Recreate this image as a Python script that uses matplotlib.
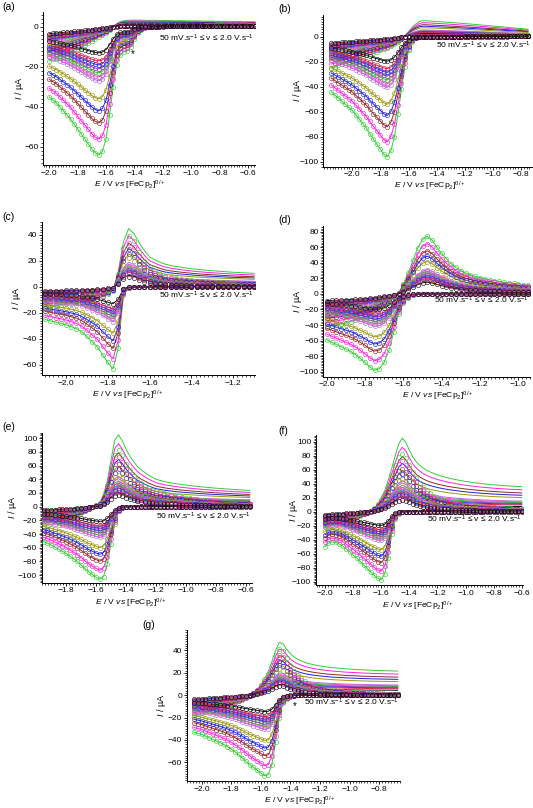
import numpy as np
import matplotlib
matplotlib.use('Agg')
import matplotlib.pyplot as plt
from matplotlib.ticker import AutoMinorLocator

plt.rcParams['font.family'] = ['Liberation Sans', 'DejaVu Sans']
plt.rcParams['mathtext.fontset'] = 'custom'
plt.rcParams['mathtext.rm'] = 'Liberation Sans'
plt.rcParams['mathtext.it'] = 'Liberation Sans:italic'

# size of each scan-rate curve (50 mV/s ... 2.0 V/s), read from the troughs in (a)
troughs_a = [-13, -17, -19, -21, -23, -25, -27, -36, -42, -48, -56, -64]
colors = ['#111111', '#e0204a', '#2030f0', '#9a30c8', '#30c030', '#f050d0',
          '#b070d8', '#9a9a10', '#2020e0', '#902828', '#ff20e8', '#30d030']

# green (2.0 V/s) curve of each panel, read every 25 mV from the left end
# fwd = cathodic sweep, rev = anodic sweep, rev_exp = circles of the anodic sweep
a_start = -2.0
a_fwd = [-35, -36.5, -38, -40, -42, -44, -46, -48.5, -51, -53.5, -56, -58.5, -61, -63, -64,
         -62, -56, -44, -30, -19, -14, -12.5, -12, -10, -6, -3, -1.5, -0.5, 0,
         0.2, 0.3, 0.4, 0.5, 0.6, 0.6, 0.7, 0.7, 0.8, 0.8, 0.9, 0.9, 1.0, 1.0, 1.0,
         1.1, 1.1, 1.1, 1.2, 1.2, 1.2, 1.3, 1.3, 1.3, 1.4, 1.4, 1.4, 1.5, 1.5, 1.5]
a_rev = [-17, -16.2, -15.5, -14.7, -14, -13.2, -12.5, -11.7, -11, -10, -9, -8, -7, -6, -5,
         -4, -3, -1.5, 0, 1.5, 2.5, 3, 3.2,
         3.3, 3.3, 3.3, 3.3, 3.2, 3.2, 3.2, 3.2, 3.1, 3.1, 3.1, 3.1, 3.0, 3.0, 3.0, 3.0,
         2.9, 2.9, 2.9, 2.9, 2.8, 2.8, 2.8, 2.8, 2.7, 2.7, 2.7, 2.7, 2.6, 2.6, 2.6, 2.6,
         2.5, 2.5, 2.5, 2.5]
a_rev_exp = [-17, -16.2, -15.5, -14.7, -14, -13.2, -12.5, -11.7, -11, -10, -9, -8, -7, -6, -5,
             -4, -3, -1.5, 0, 0.5, 0.8, 0.9, 1.0, 1.0, 1.0, 1.0, 1.0, 1.0, 1.0, 1.0, 1.0,
             1.0, 1.0, 1.0, 1.0, 1.0, 1.0, 1.0, 1.0, 1.0, 1.0, 1.0, 1.0, 1.0, 1.0, 1.0,
             1.0, 1.0, 1.0, 1.0, 1.0, 1.0, 1.0, 1.0, 1.0, 1.0, 1.0, 1.0, 1.0]

b_start = -2.15
b_fwd = [-44, -46.5, -49, -51.5, -54, -56.5, -59, -62.5, -66, -69.5, -73, -77.5, -82, -86,
         -90, -94, -96, -91, -80, -62, -42, -24, -11, -4, -1, 0,
         0.1, 0.2, 0.3, 0.3, 0.4, 0.4, 0.5, 0.5, 0.5, 0.6, 0.6, 0.6, 0.7, 0.7, 0.7, 0.7,
         0.8, 0.8, 0.8, 0.8, 0.9, 0.9, 0.9, 0.9, 0.9, 1.0, 1.0, 1.0, 1.0, 1.0, 1.0]
b_rev = [-25, -24, -23, -22, -21, -20, -19, -18, -17, -16, -15, -14, -13, -12, -11, -10, -9,
         -7.5, -6, -4, -2, 1, 4, 7.5, 10, 12, 12.8, 12.8, 12.6,
         12.4, 12.2, 12.0, 11.8, 11.6, 11.4, 11.2, 11.0, 10.7, 10.5, 10.3, 10.1, 9.8, 9.6,
         9.3, 9.1, 8.8, 8.6, 8.3, 8.1, 7.8, 7.6, 7.3, 7.1, 6.8, 6.6, 6.3, 6.0]
b_rev_exp = [-25, -24, -23, -22, -21, -20, -19, -18, -17, -16, -15, -14, -13, -12, -11, -10,
             -9, -7.5, -6, -4, -2, -0.5, 0.3, 0.6, 0.8, 0.8, 0.8, 0.8, 0.8, 0.9, 0.9, 0.9,
             0.9, 0.9, 0.9, 0.9, 0.9, 0.9, 1.0, 1.0, 1.0, 1.0, 1.0, 1.0, 1.0, 1.0, 1.0,
             1.0, 1.0, 1.0, 1.0, 1.0, 1.0, 1.0, 1.0, 1.0, 1.0]

c_start = -2.1
c_fwd = [-25, -26, -27, -28, -29, -30.5, -32, -34.5, -38, -42, -46, -52, -58, -63, -47, -6,
         -1, 0, 0.1, 0.2, 0.3, 0.4, 0.5, 0.5, 0.6, 0.6, 0.7, 0.7, 0.8, 0.8, 0.9, 0.9, 0.9,
         1.0, 1.0, 1.0, 1.1, 1.1, 1.1, 1.2, 1.2]
c_rev = [-15, -14.5, -14, -13.5, -13, -12.5, -12, -11.5, -11, -10, -9, -7.5, -5.5, -3, 12,
         35, 45, 41, 34, 28, 23, 21, 19, 17.5, 16.5, 15.8, 15.2, 14.6, 14.1, 13.6, 13.2,
         12.8, 12.5, 12.2, 11.9, 11.6, 11.3, 11.1, 10.9, 10.7, 10.5]
c_rev_exp = [-15, -14.5, -14, -13.5, -13, -12.5, -12, -11.5, -11, -10, -9, -7.5, -5.5, -3,
             10, 30, 39, 35, 27, 20, 15, 12, 10, 8.6, 7.6, 6.8, 6.2, 5.7, 5.3, 4.9, 4.6,
             4.3, 4.1, 3.9, 3.7, 3.5, 3.4, 3.3, 3.2, 3.1, 3.0]

d_start = -2.0
d_fwd = [-59, -62, -65, -68, -71, -74, -78, -83, -88, -94, -98, -96, -88, -72, -49, -26, -12,
         -5, -2, -0.5, 0, 0.2, 0.3, 0.4, 0.5, 0.5, 0.6, 0.6, 0.7, 0.7, 0.8, 0.8, 0.8, 0.9,
         0.9, 0.9, 1.0, 1.0, 1.0, 1.0, 1.1, 1.1, 1.1]
d_rev = [-42, -41, -40, -38.5, -37, -35.5, -34, -32, -30, -27, -24, -20, -15, -10, -5, 1, 13,
         27, 43, 59, 70, 74, 69, 60, 52, 45, 39, 34, 30, 27, 24.5, 22.5, 21, 19.5, 18.2, 17,
         16, 15, 14.2, 13.4, 12.7, 12, 11.5]
d_rev_exp = d_rev

e_start = -1.95
e_fwd = [-51, -53, -56, -59, -62, -65, -68, -72, -76, -80, -85, -90, -95, -99, -103, -106,
         -102, -84, -54, -25, -7, -2, -0.5, 0,
         0.1, 0.2, 0.3, 0.3, 0.4, 0.4, 0.5, 0.5, 0.5, 0.6, 0.6, 0.6, 0.7, 0.7, 0.7, 0.7,
         0.8, 0.8, 0.8, 0.8, 0.9, 0.9, 0.9, 0.9, 0.9, 1.0, 1.0, 1.0, 1.0, 1.0, 1.0, 1.0]
e_rev = [-24, -23, -22, -21, -20, -19, -17.5, -16, -14, -12, -9.5, -7, -4, -1, 2, 5,
         18, 37, 68, 97, 105, 96, 84, 74, 66, 59, 54, 50, 46, 43, 40, 38.5, 37, 35.8, 34.8,
         33.8, 33, 32.2, 31.5, 30.8, 30.2, 29.6, 29, 28.5, 28, 27.5, 27, 26.6, 26.2, 25.8,
         25.4, 25, 24.7, 24.4, 24.1, 23.8]
e_rev_exp = [-24, -23, -22, -21, -20, -19, -17.5, -16, -14, -12, -9.5, -7, -4, -1, 2, 5,
             16, 32, 56, 76, 83, 75, 63, 53, 45, 39, 34, 30, 27, 24.5, 22.5, 21, 19.5, 18.2,
             17, 16, 15, 14, 13, 12.2, 11.4, 10.7, 10, 9.4, 8.8, 8.3, 7.8, 7.3, 6.9, 6.5,
             6.1, 5.8, 5.5, 5.2, 4.9, 4.6]

f_start = -2.0
f_fwd = [-50, -45, -43, -44, -46, -49, -53, -57, -62, -66, -71, -76, -81, -86, -91, -95, -97,
         -89, -66, -32, -10, -3, -1, 0,
         0.1, 0.1, 0.2, 0.2, 0.3, 0.3, 0.3, 0.4, 0.4, 0.4, 0.5, 0.5, 0.5, 0.5, 0.6, 0.6,
         0.6, 0.6, 0.7, 0.7, 0.7, 0.7, 0.8, 0.8, 0.8, 0.8, 0.8, 0.9, 0.9, 0.9, 0.9, 0.9, 1.0]
f_rev = [-22, -20.5, -19, -17.5, -16, -14.5, -13, -11.5, -10, -8, -6, -4, -2, 1, 5, 11, 20,
         30, 45, 62, 80, 97, 105, 99, 88, 78, 71, 66, 62, 59, 56.5, 54.5, 52.5, 51, 49.5,
         48.2, 47, 46, 45, 44, 43.2, 42.4, 41.7, 41, 40.4, 39.8, 39.3, 38.8, 38.3, 37.9,
         37.5, 37.1, 36.8, 36.5, 36.2, 36, 35.7]
f_rev_exp = [-22, -20.5, -19, -17.5, -16, -14.5, -13, -11.5, -10, -8, -6, -4, -2, 1, 5, 11,
             16, 25, 37, 52, 66, 78, 82, 76, 66, 56, 48, 41, 35, 30, 26, 23, 20.5, 18.5,
             16.8, 15.3, 14, 12.8, 11.8, 10.9, 10.1, 9.4, 8.8, 8.2, 7.7, 7.2, 6.8, 6.4, 6,
             5.7, 5.4, 5.1, 4.8, 4.6, 4.4, 4.2, 4]

g_start = -2.05
g_fwd = [-33, -34, -35, -36.5, -38, -39.5, -41, -42.5, -44, -46, -48, -50.5, -53, -56, -59,
         -62, -64.5, -67, -69.5, -72, -71, -62, -42, -20, -7, -3, -1.5, -0.5, 0,
         0.1, 0.2, 0.2, 0.3, 0.3, 0.4, 0.4, 0.5, 0.5, 0.5, 0.6, 0.6, 0.6, 0.7, 0.7, 0.7,
         0.8, 0.8, 0.8, 0.8, 0.9, 0.9, 0.9, 0.9, 1.0, 1.0, 1.0]
g_rev = [-18, -17, -16, -15, -14, -13, -12, -11, -10, -9, -8, -7, -5.5, -4, -2.5, -0.5, 2, 5,
         9, 14, 21, 30, 40, 47, 46, 41, 37, 34, 32, 30.5, 29.2, 28.2, 27.4, 26.7, 26.1, 25.6,
         25.1, 24.7, 24.4, 24.1, 23.8, 23.5, 23.3, 23.1, 22.9, 22.7, 22.5, 22.4, 22.2, 22.1,
         22, 21.9, 21.8, 21.7, 21.6, 21.5]
g_rev_exp = [-18, -17, -16, -15, -14, -13, -12, -11, -10, -9, -8, -7, -5.5, -4, -2.5, -0.5,
             2, 5, 9, 14, 19, 27, 36, 41, 39, 33, 27, 22, 18, 15, 12.5, 10.5, 9, 7.8, 6.8, 6,
             5.3, 4.7, 4.2, 3.8, 3.4, 3.1, 2.8, 2.6, 2.4, 2.2, 2, 1.9, 1.8, 1.7, 1.6, 1.5,
             1.4, 1.3, 1.2, 1.1]

# axes ticks and limits
x_ticks = {
    'a': (-2.0, -0.6), 'b': (-2.0, -0.8), 'c': (-2.0, -1.2), 'd': (-2.0, -1.0),
    'e': (-1.8, -0.6), 'f': (-2.0, -0.6), 'g': (-2.0, -0.8),
}
y_ticks = {
    'a': (-60, 0), 'b': (-100, 0), 'c': (-60, 40), 'd': (-100, 80),
    'e': (-100, 100), 'f': (-100, 100), 'g': (-60, 40),
}
xlims = {'a': (-2.042, -0.55), 'b': (-2.206, -0.724), 'c': (-2.116, -1.096),
         'd': (-2.018, -0.939), 'e': (-1.962, -0.562), 'f': (-2.066, -0.589),
         'g': (-2.10, -0.66)}
ylims = {'a': (-69, 7.5), 'b': (-104, 17.4), 'c': (-67.7, 50.2), 'd': (-106.4, 87.3),
         'e': (-111, 108), 'f': (-104.8, 109.5), 'g': (-76.7, 58.2)}

panels = {
    'a': (a_start, a_fwd, a_rev, a_rev_exp),
    'b': (b_start, b_fwd, b_rev, b_rev_exp),
    'c': (c_start, c_fwd, c_rev, c_rev_exp),
    'd': (d_start, d_fwd, d_rev, d_rev_exp),
    'e': (e_start, e_fwd, e_rev, e_rev_exp),
    'f': (f_start, f_fwd, f_rev, f_rev_exp),
    'g': (g_start, g_fwd, g_rev, g_rev_exp),
}

# layout in pixels: left, right, top, bottom
W, H = 533, 808
boxes = {
    'a': (43.3, 255, 11.7, 165), 'b': (323.3, 531.7, 15, 166.7),
    'c': (41.7, 255, 221.7, 375), 'd': (323.3, 530, 226, 376.7),
    'e': (41.7, 251.7, 432.7, 582.7), 'f': (315.7, 523.3, 435, 585),
    'g': (186.7, 400, 630, 781),
}
# axis-label centres in pixels below / left of the axes: y-label x, x-label x, x-label drop
ylab_x = {'a': 20, 'b': 298, 'c': 16.7, 'd': 298, 'e': 12, 'f': 293, 'g': 161}
xlab_x = {'a': 130, 'b': 430, 'c': 127.5, 'd': 438.3, 'e': 131, 'f': 418, 'g': 300}
xlab_drop = {'a': 20, 'b': 19.5, 'c': 20, 'd': 19.5, 'e': 21, 'f': 21, 'g': 20}
label_pos = {'a': (2, 7), 'b': (278, 8.5), 'c': (2, 217), 'd': (278, 220),
             'e': (2, 427), 'f': (278, 431), 'g': (142, 625)}
note_y = {'a': 0.826, 'b': 0.798, 'c': 0.517, 'd': 0.509, 'e': 0.44, 'f': 0.44, 'g': 0.522}
stars = {'a': (-1.41, -13.5), 'g': (-1.37, -9.5)}

fig = plt.figure(figsize=(W / 100, H / 100), dpi=100)

for key, (start, fwd, rev, rev_exp) in panels.items():
    l, r, t, b = boxes[key]
    w, h = r - l, b - t
    ax = fig.add_axes([l / W, 1 - b / H, w / W, h / H])
    E_f = start + 0.025 * np.arange(len(fwd))
    E_r = start + 0.025 * np.arange(len(rev))
    E_x = start + 0.025 * np.arange(len(rev_exp))
    fwd = np.array(fwd, dtype=float)
    rev = np.array(rev, dtype=float)
    rev_exp = np.array(rev_exp, dtype=float)
    for k in range(len(troughs_a) - 1, -1, -1):
        s = troughs_a[k] / troughs_a[-1]
        c = colors[k]
        ax.plot(E_f, s * fwd, color=c, lw=0.7, zorder=2)
        ax.plot(E_r, s * rev, color=c, lw=0.7, zorder=2)
        ax.plot(E_f, s * fwd, 'o', ms=3.0, mfc='none', mec=c, mew=0.45, zorder=3)
        ax.plot(E_x, s * rev_exp, 'o', ms=3.0, mfc='none', mec=c, mew=0.45, zorder=3)

    ax.set_xlim(*xlims[key])
    ax.set_ylim(*ylims[key])
    x0, x1 = x_ticks[key]
    ax.set_xticks(np.round(np.arange(x0, x1 + 0.01, 0.2), 1))
    y0, y1 = y_ticks[key]
    ax.set_yticks(np.arange(y0, y1 + 1, 20))
    ax.xaxis.set_minor_locator(AutoMinorLocator(10))
    ax.yaxis.set_minor_locator(AutoMinorLocator(10))
    ax.tick_params(which='major', direction='out', length=2.5, width=0.6, labelsize=6.0, pad=0.8)
    ax.tick_params(which='minor', direction='out', length=1.3, width=0.5)
    for side in ['top', 'right']:
        ax.spines[side].set_visible(False)
    for side in ['left', 'bottom']:
        ax.spines[side].set_linewidth(0.7)
    ax.set_xlabel(r'$\mathit{E}$ / V $\mathit{vs}$ [FeCp$_2$]$^{0/+}$', fontsize=6.1, va='center')
    ax.xaxis.set_label_coords((xlab_x[key] - l) / w, -xlab_drop[key] / h)
    ax.set_ylabel(r'$\mathit{I}$ / µA', fontsize=6.5, va='center')
    ax.yaxis.set_label_coords((ylab_x[key] - l) / w, 0.5)
    ax.text(0.995, note_y[key], r'50 mV.s$^{-1}$ ≤ v ≤ 2.0 V.s$^{-1}$', transform=ax.transAxes,
            ha='right', va='center', fontsize=6.0, zorder=5)
    if key in stars:
        ax.text(stars[key][0], stars[key][1], '*', ha='center', va='center', fontsize=7)
    lx, ly = label_pos[key]
    fig.text(lx / W, 1 - ly / H, '(%s)' % key, ha='left', va='center', fontsize=7.5)

fig.savefig('out.png', dpi=100)
